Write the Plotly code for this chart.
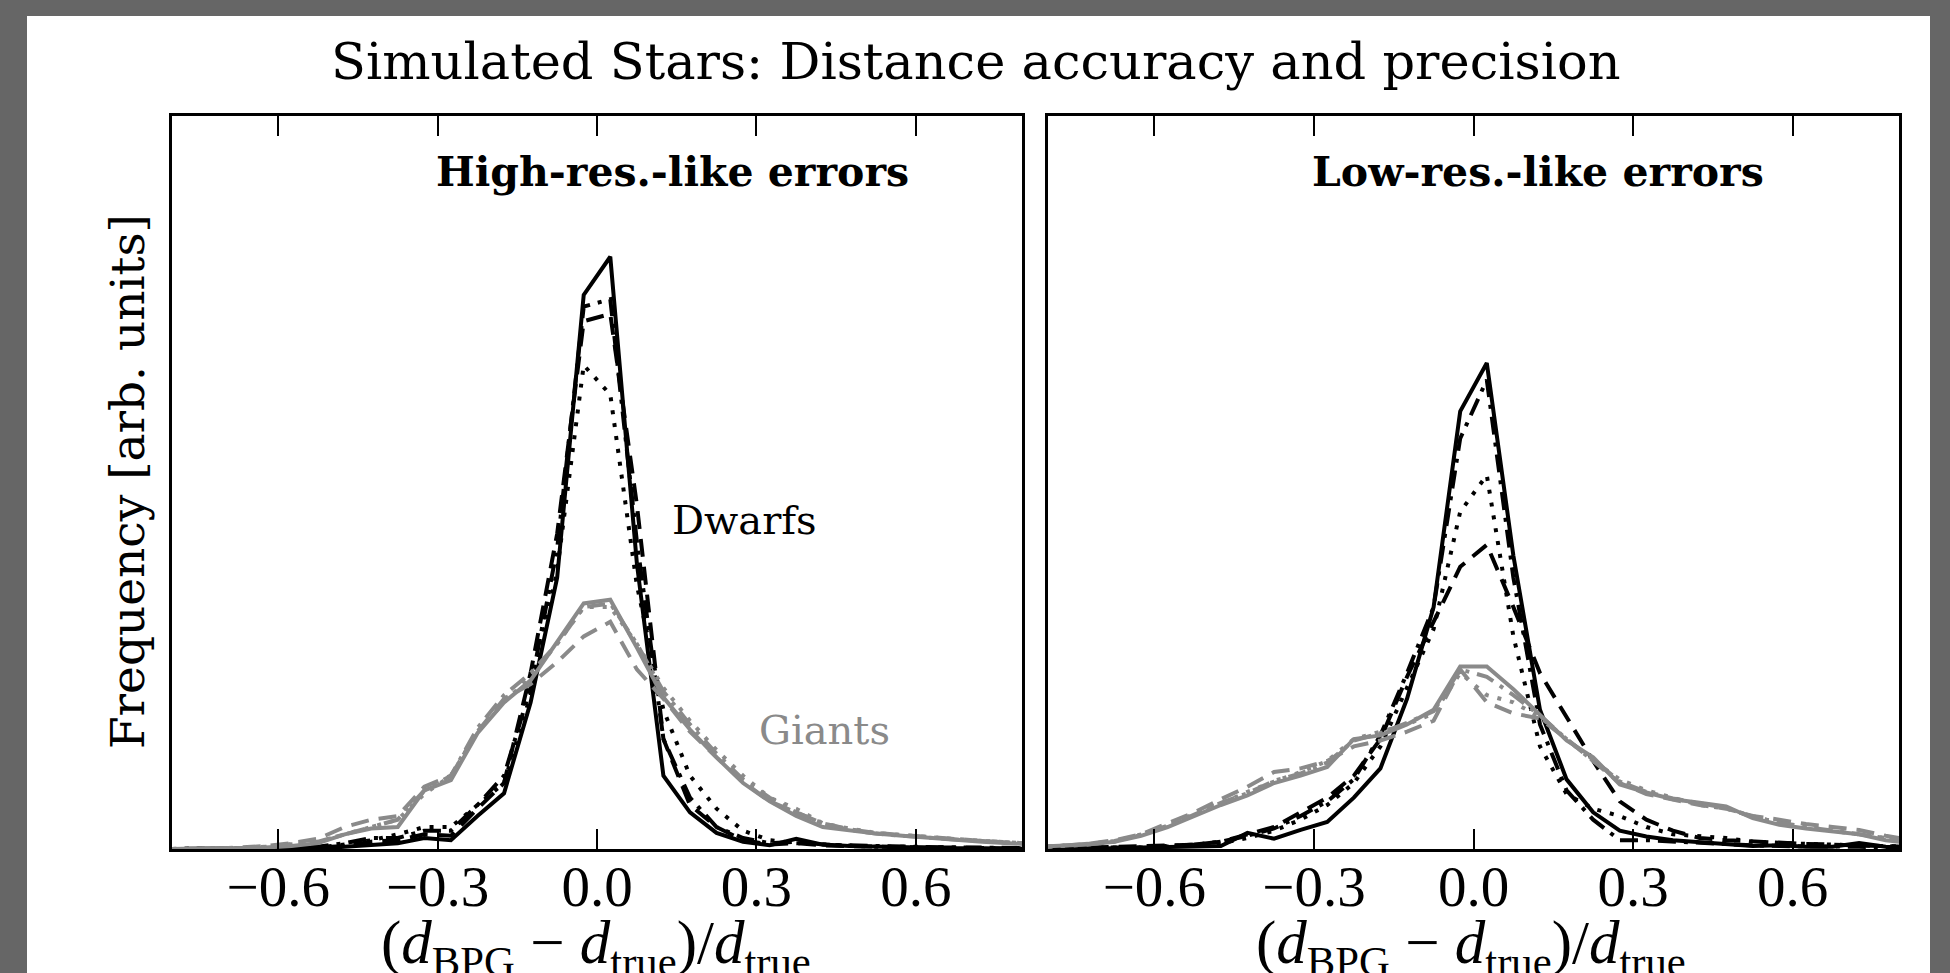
import plotly.graph_objects as go

# ---------------- data ----------------
bins = [-0.825, -0.775, -0.725, -0.675, -0.625, -0.575, -0.525, -0.475, -0.425,
        -0.375, -0.325, -0.275, -0.225, -0.175, -0.125, -0.075, -0.025,
        0.025, 0.075, 0.125, 0.175, 0.225, 0.275, 0.325, 0.375,
        0.425, 0.475, 0.525, 0.575, 0.625, 0.675, 0.725, 0.775, 0.825]

tick_vals = [-0.6, -0.3, 0.0, 0.3, 0.6]
tick_text = ["\u22120.6", "\u22120.3", "0.0", "0.3", "0.6"]

# High-res.-like errors: dwarfs (black) and giants (gray), four line styles each
hi_dwarf_solid = [0, 0, 0, 0, 0, 0, 0.001, 0.003, 0.006,
                  0.008, 0.015, 0.012, 0.045, 0.076, 0.20, 0.37, 0.756,
                  0.808, 0.39, 0.10, 0.05, 0.022, 0.01, 0.005, 0.014,
                  0.006, 0.004, 0.003, 0.002, 0.002, 0.001, 0.001, 0.0, 0.0]
hi_dwarf_dash = [0, 0, 0, 0, 0, 0.001, 0.002, 0.004, 0.01,
                 0.012, 0.02, 0.018, 0.055, 0.09, 0.24, 0.43, 0.72,
                 0.73, 0.47, 0.15, 0.06, 0.03, 0.012, 0.006, 0.008,
                 0.005, 0.004, 0.003, 0.003, 0.002, 0.002, 0.001, 0.001, 0.0]
hi_dwarf_dot = [0, 0, 0, 0, 0, 0.001, 0.002, 0.006, 0.012,
                0.02, 0.03, 0.03, 0.06, 0.09, 0.21, 0.38, 0.66,
                0.62, 0.36, 0.19, 0.10, 0.055, 0.025, 0.012, 0.008,
                0.006, 0.004, 0.003, 0.003, 0.002, 0.002, 0.001, 0.001, 0.0]
hi_dwarf_dashdot = [0, 0, 0, 0, 0, 0.001, 0.003, 0.008, 0.015,
                    0.015, 0.025, 0.025, 0.06, 0.10, 0.22, 0.41, 0.74,
                    0.75, 0.42, 0.15, 0.07, 0.03, 0.015, 0.008, 0.01,
                    0.006, 0.005, 0.004, 0.003, 0.003, 0.002, 0.002, 0.001, 0.001]
hi_giant_solid = [0, 0, 0, 0.001, 0.002, 0.004, 0.008, 0.02, 0.028,
                  0.03, 0.08, 0.094, 0.158, 0.20, 0.23, 0.283, 0.335,
                  0.34, 0.275, 0.207, 0.163, 0.125, 0.09, 0.065, 0.045,
                  0.03, 0.025, 0.021, 0.018, 0.015, 0.012, 0.01, 0.008, 0.006]
hi_giant_dash = [0, 0, 0, 0.002, 0.004, 0.008, 0.014, 0.03, 0.04,
                 0.045, 0.085, 0.10, 0.16, 0.205, 0.225, 0.255, 0.29,
                 0.31, 0.245, 0.205, 0.16, 0.125, 0.092, 0.065, 0.05,
                 0.035, 0.027, 0.022, 0.019, 0.016, 0.013, 0.011, 0.009, 0.007]
hi_giant_dot = [0, 0, 0, 0.001, 0.003, 0.006, 0.01, 0.02, 0.03,
                0.04, 0.075, 0.10, 0.16, 0.20, 0.235, 0.28, 0.33,
                0.33, 0.28, 0.22, 0.175, 0.135, 0.10, 0.07, 0.055,
                0.035, 0.028, 0.022, 0.019, 0.016, 0.013, 0.011, 0.009, 0.007]
hi_giant_dashdot = [0, 0, 0, 0.001, 0.003, 0.006, 0.01, 0.02, 0.03,
                    0.04, 0.08, 0.10, 0.165, 0.21, 0.24, 0.28, 0.33,
                    0.335, 0.28, 0.215, 0.17, 0.13, 0.095, 0.07, 0.05,
                    0.035, 0.026, 0.021, 0.018, 0.015, 0.013, 0.011, 0.009, 0.007]

# Low-res.-like errors
lo_dwarf_solid = [0, 0, 0.001, 0.001, 0.002, 0.003, 0.004, 0.004, 0.022,
                  0.014, 0.026, 0.037, 0.07, 0.11, 0.205, 0.33, 0.597,
                  0.663, 0.40, 0.19, 0.095, 0.05, 0.025, 0.017, 0.012,
                  0.009, 0.006, 0.004, 0.005, 0.003, 0.003, 0.008, 0.003, 0.002]
lo_dwarf_dash = [0, 0.001, 0.001, 0.002, 0.003, 0.004, 0.006, 0.01, 0.02,
                 0.03, 0.05, 0.07, 0.10, 0.15, 0.235, 0.31, 0.385,
                 0.415, 0.33, 0.24, 0.18, 0.12, 0.065, 0.04, 0.025,
                 0.015, 0.012, 0.01, 0.008, 0.007, 0.006, 0.005, 0.004, 0.003]
lo_dwarf_dot = [0, 0.001, 0.001, 0.002, 0.002, 0.003, 0.005, 0.008, 0.015,
                0.025, 0.04, 0.06, 0.09, 0.14, 0.22, 0.30, 0.46,
                0.51, 0.29, 0.14, 0.075, 0.055, 0.045, 0.03, 0.02,
                0.017, 0.015, 0.01, 0.008, 0.007, 0.006, 0.005, 0.004, 0.003]
lo_dwarf_dashdot = [0, 0.001, 0.001, 0.002, 0.002, 0.004, 0.006, 0.01, 0.018,
                    0.028, 0.045, 0.065, 0.095, 0.155, 0.24, 0.33, 0.56,
                    0.64, 0.37, 0.17, 0.08, 0.04, 0.012, 0.012, 0.01,
                    0.008, 0.006, 0.005, 0.004, 0.004, 0.003, 0.003, 0.002, 0.002]
lo_giant_solid = [0.003, 0.004, 0.006, 0.01, 0.018, 0.03, 0.045, 0.06, 0.073,
                  0.09, 0.10, 0.112, 0.15, 0.155, 0.17, 0.19, 0.249,
                  0.249, 0.218, 0.183, 0.148, 0.125, 0.088, 0.077, 0.068,
                  0.063, 0.058, 0.042, 0.033, 0.028, 0.024, 0.02, 0.012, 0.008]
lo_giant_dash = [0.002, 0.004, 0.007, 0.012, 0.02, 0.035, 0.05, 0.068, 0.085,
                 0.105, 0.11, 0.12, 0.14, 0.148, 0.16, 0.175, 0.245,
                 0.20, 0.185, 0.178, 0.15, 0.12, 0.09, 0.075, 0.067,
                 0.06, 0.055, 0.045, 0.04, 0.034, 0.03, 0.026, 0.018, 0.012]
lo_giant_dot = [0.002, 0.004, 0.006, 0.01, 0.02, 0.032, 0.048, 0.062, 0.078,
                0.092, 0.105, 0.12, 0.15, 0.16, 0.17, 0.185, 0.24,
                0.21, 0.20, 0.18, 0.15, 0.12, 0.095, 0.08, 0.07,
                0.06, 0.055, 0.045, 0.035, 0.03, 0.025, 0.02, 0.015, 0.01]
lo_giant_dashdot = [0.002, 0.004, 0.007, 0.011, 0.019, 0.031, 0.047, 0.063, 0.076,
                    0.093, 0.103, 0.118, 0.148, 0.158, 0.172, 0.188, 0.245,
                    0.235, 0.21, 0.182, 0.15, 0.122, 0.092, 0.078, 0.069,
                    0.062, 0.056, 0.044, 0.036, 0.03, 0.025, 0.021, 0.015, 0.01]

# ---------------- styling ----------------
W, H = 1950, 973
BLACK = "#000000"
GRAY = "#8a8a8a"
LW = 4
DASHES = {"solid": "solid", "dash": "18px,10px", "dot": "4px,9px",
          "dashdot": "18px,8px,4px,8px"}

def px_x(p):
    return p / W

def px_y(p):
    return 1 - p / H

fig = go.Figure()

panels = [
    ("x", "y", [(hi_dwarf_solid, "solid"), (hi_dwarf_dash, "dash"),
                (hi_dwarf_dot, "dot"), (hi_dwarf_dashdot, "dashdot")],
     [(hi_giant_solid, "solid"), (hi_giant_dash, "dash"),
      (hi_giant_dot, "dot"), (hi_giant_dashdot, "dashdot")]),
    ("x2", "y2", [(lo_dwarf_solid, "solid"), (lo_dwarf_dash, "dash"),
                  (lo_dwarf_dot, "dot"), (lo_dwarf_dashdot, "dashdot")],
     [(lo_giant_solid, "solid"), (lo_giant_dash, "dash"),
      (lo_giant_dot, "dot"), (lo_giant_dashdot, "dashdot")]),
]

for xa, ya, dwarfs, giants in panels:
    for vals, style in dwarfs:
        fig.add_trace(go.Scatter(x=bins, y=vals, mode="lines", xaxis=xa, yaxis=ya,
                                 line=dict(color=BLACK, width=LW, dash=DASHES[style]),
                                 showlegend=False, hoverinfo="skip"))
    for vals, style in giants:
        fig.add_trace(go.Scatter(x=bins, y=vals, mode="lines", xaxis=xa, yaxis=ya,
                                 line=dict(color=GRAY, width=LW, dash=DASHES[style]),
                                 showlegend=False, hoverinfo="skip"))

TICKFONT = dict(family="Liberation Serif", size=57, color="black")

def xaxis_cfg(domain):
    return dict(domain=domain, range=[-0.8, 0.8], showline=True, linecolor="black",
                linewidth=3, mirror="ticks", ticks="inside", ticklen=20, tickwidth=1.5,
                tickcolor="black", tickvals=tick_vals, ticktext=tick_text,
                tickfont=TICKFONT, showgrid=False, zeroline=False,
                ticklabelstandoff=-14, fixedrange=True)

def yaxis_cfg(anchor):
    return dict(domain=[px_y(849), px_y(116)], range=[0, 1], showline=True,
                linecolor="black", linewidth=3, mirror=True, ticks="",
                showticklabels=False, showgrid=False, zeroline=False,
                anchor=anchor, fixedrange=True)

fig.update_layout(
    width=W, height=H,
    margin=dict(l=0, r=0, t=0, b=0),
    paper_bgcolor="#666666",
    plot_bgcolor="white",
    xaxis=dict(**xaxis_cfg([px_x(172), px_x(1022)]), anchor="y"),
    yaxis=yaxis_cfg("x"),
    xaxis2=dict(**xaxis_cfg([px_x(1048), px_x(1899)]), anchor="y2"),
    yaxis2=yaxis_cfg("x2"),
    shapes=[dict(type="rect", xref="paper", yref="paper",
                 x0=px_x(27), x1=px_x(1930), y0=-0.05, y1=px_y(16),
                 fillcolor="white", line=dict(width=0), layer="below")],
)

SERIF = "DejaVu Serif"
ann = []
ann.append(dict(text="Simulated Stars: Distance accuracy and precision",
                x=px_x(976), y=px_y(62), xref="paper", yref="paper",
                xanchor="center", yanchor="middle", showarrow=False,
                font=dict(family=SERIF, size=51, color="black")))
ann.append(dict(text="<b>High-res.-like errors</b>", x=px_x(672), y=px_y(172),
                xref="paper", yref="paper", xanchor="center", yanchor="middle",
                showarrow=False, font=dict(family=SERIF, size=41, color="black")))
ann.append(dict(text="<b>Low-res.-like errors</b>", x=px_x(1538), y=px_y(172),
                xref="paper", yref="paper", xanchor="center", yanchor="middle",
                showarrow=False, font=dict(family=SERIF, size=41, color="black")))
ann.append(dict(text="Dwarfs", x=px_x(744), y=px_y(520), xref="paper", yref="paper",
                xanchor="center", yanchor="middle", showarrow=False,
                font=dict(family=SERIF, size=40, color="black")))
ann.append(dict(text="Giants", x=px_x(824), y=px_y(730), xref="paper", yref="paper",
                xanchor="center", yanchor="middle", showarrow=False,
                font=dict(family=SERIF, size=40, color=GRAY)))
ann.append(dict(text="Frequency [arb. units]", x=px_x(128), y=px_y(482),
                xref="paper", yref="paper", xanchor="center", yanchor="middle",
                textangle=-90, showarrow=False,
                font=dict(family=SERIF, size=47, color="black")))
xtitle = ("(<i>d</i><sub>BPG</sub> \u2212 <i>d</i><sub>true</sub>)/"
          "<i>d</i><sub>true</sub>")
for cx in (596, 1471):
    ann.append(dict(text=xtitle, x=px_x(cx), y=px_y(947), xref="paper", yref="paper",
                    xanchor="center", yanchor="middle", showarrow=False,
                    font=dict(family="Liberation Serif", size=61, color="black")))
fig.update_layout(annotations=ann)

fig.write_html("out.html", config={"displayModeBar": False},
               post_script="document.body.style.margin='0px';document.body.style.overflow='hidden';")
